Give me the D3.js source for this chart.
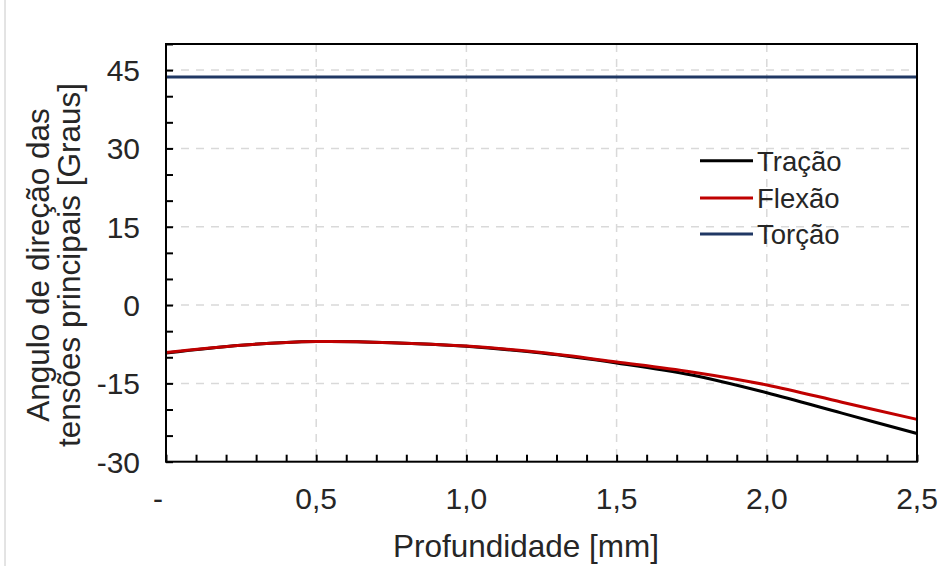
<!DOCTYPE html>
<html><head><meta charset="utf-8">
<script src="https://cdn.jsdelivr.net/npm/d3@7"></script>
<style>
html,body{margin:0;padding:0;background:#fff;}
svg{display:block;font-family:"Liberation Sans",Arial,sans-serif;}
</style></head>
<body>
<svg id="c" width="943" height="566"></svg>
<script>
const depth = [0, 0.25, 0.5, 0.75, 1.0, 1.25, 1.5, 1.75, 2.0, 2.25, 2.5];
const tracao = [-9.2, -7.7, -7.0, -7.2, -7.9, -9.2, -11.1, -13.4, -16.8, -20.7, -24.6];
const flexao = [-9.1, -7.7, -7.0, -7.2, -7.85, -9.1, -10.9, -12.8, -15.3, -18.6, -21.9];
const torcao = [43.7, 43.7, 43.7, 43.7, 43.7, 43.7, 43.7, 43.7, 43.7, 43.7, 43.7];
const seriesNames = ["Tração", "Flexão", "Torção"];
const seriesColors = ["#000000", "#c00000", "#203864"];
const xTicks = [0, 0.5, 1.0, 1.5, 2.0, 2.5];
const xTickLabels = ["-", "0,5", "1,0", "1,5", "2,0", "2,5"];
const yTicks = [-30, -15, 0, 15, 30, 45];
const yTickLabels = ["-30", "-15", "0", "15", "30", "45"];

const svg = d3.select("#c");
const L = 166, R = 917, T = 44, B = 461.7;
const x = d3.scaleLinear().domain([0, 2.5]).range([L, R]);
const y = d3.scaleLinear().domain([-30, 50]).range([B, T]);
const txt = "#262626";

// left image border line
svg.append("line").attr("x1", 5).attr("x2", 5).attr("y1", 0).attr("y2", 566)
  .attr("stroke", "#c8c8c8").attr("stroke-width", 1);

// grid
const grid = svg.append("g");
grid.selectAll(".gx").data(xTicks.filter(d => d > 0 && d < 2.5)).join("line")
  .attr("x1", d => x(d)).attr("x2", d => x(d)).attr("y1", T).attr("y2", B)
  .attr("stroke", "#d9d9d9").attr("stroke-width", 1.5).attr("stroke-dasharray", "8,7");
grid.selectAll(".gy").data(yTicks.filter(d => d > -30)).join("line")
  .attr("x1", L).attr("x2", R).attr("y1", d => y(d)).attr("y2", d => y(d))
  .attr("stroke", "#d9d9d9").attr("stroke-width", 1.5).attr("stroke-dasharray", "8,7");

// minor ticks (inward)
const minorX = d3.range(0, 2.5001, 0.1);
const minorY = d3.range(-30, 50.001, 5);
const ax = svg.append("g").attr("transform", `translate(0,${B})`)
  .call(d3.axisBottom(x).tickValues(minorX).tickSizeInner(-7).tickSizeOuter(0).tickFormat(""));
ax.select(".domain").remove();
ax.selectAll("line").attr("stroke", "#000").attr("stroke-width", 2);
const ay = svg.append("g").attr("transform", `translate(${L},0)`)
  .call(d3.axisLeft(y).tickValues(minorY).tickSizeInner(-7).tickSizeOuter(0).tickFormat(""));
ay.select(".domain").remove();
ay.selectAll("line").attr("stroke", "#000").attr("stroke-width", 2);

// tick labels
svg.append("g").selectAll("text").data(xTicks).join("text")
  .attr("x", (d, i) => x(d) + (i === 0 ? -8 : 0)).attr("y", 509)
  .attr("text-anchor", "middle").attr("font-size", 30).attr("fill", txt)
  .text((d, i) => xTickLabels[i]);
svg.append("g").selectAll("text").data(yTicks).join("text")
  .attr("x", 140).attr("y", d => y(d)).attr("dy", "0.36em")
  .attr("text-anchor", "end").attr("font-size", 30).attr("fill", txt)
  .text((d, i) => yTickLabels[i]);

// series
const line = d3.line().x((d, i) => x(depth[i])).y(d => y(d)).curve(d3.curveCatmullRom);
const allSeries = [tracao, flexao, torcao];
svg.append("g").selectAll("path").data(allSeries).join("path")
  .attr("d", d => line(d)).attr("fill", "none")
  .attr("stroke", (d, i) => seriesColors[i]).attr("stroke-width", 3);

// frame
svg.append("rect").attr("x", L).attr("y", T).attr("width", R - L).attr("height", B - T)
  .attr("fill", "none").attr("stroke", "#000").attr("stroke-width", 2);

// legend
const lg = svg.append("g");
const rows = [160.7, 198, 234];
seriesNames.forEach((n, i) => {
  lg.append("line").attr("x1", 700).attr("x2", 753).attr("y1", rows[i]).attr("y2", rows[i])
    .attr("stroke", seriesColors[i]).attr("stroke-width", 3);
  lg.append("text").attr("x", 757).attr("y", rows[i]).attr("dy", "0.36em")
    .attr("font-size", 27.5).attr("fill", txt).text(n);
});

// axis titles
svg.append("text").attr("x", 526).attr("y", 557).attr("text-anchor", "middle")
  .attr("font-size", 31.5).attr("fill", txt).text("Profundidade [mm]");
const yt = svg.append("text").attr("transform", "translate(0,265) rotate(-90)")
  .attr("text-anchor", "middle").attr("font-size", 31.5).attr("fill", txt);
yt.append("tspan").attr("x", 0).attr("y", 49).text("Angulo de direção das");
yt.append("tspan").attr("x", 0).attr("y", 80).text("tensões principais [Graus]");
</script>
</body></html>
